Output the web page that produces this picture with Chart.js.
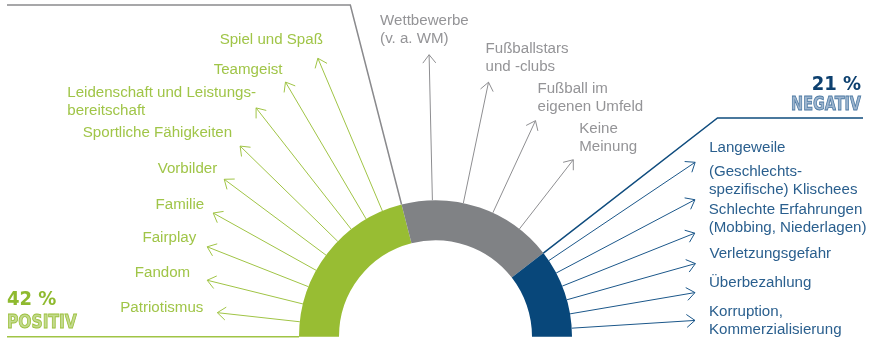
<!DOCTYPE html>
<html lang="de">
<head>
<meta charset="utf-8">
<title>Fußball – Assoziationen</title>
<script src="https://cdn.jsdelivr.net/npm/chart.js@4.4.1/dist/chart.umd.min.js"></script>
<style>
  html, body { margin: 0; padding: 0; background: #fff; }
  #chart { display: block; }
</style>
</head>
<body>
<canvas id="chart" width="869" height="339"></canvas>
<script>
// Anteile der drei Gruppen in Prozent
const groups = ['Positiv', 'Neutral', 'Negativ'];
const shares = [42, 37, 21];

// Nennungen je Gruppe, im Uhrzeigersinn von links unten nach rechts unten
const positiv = [
  'Patriotismus', 'Fandom', 'Fairplay', 'Familie', 'Vorbilder',
  'Sportliche Fähigkeiten', 'Leidenschaft und Leistungs-\nbereitschaft',
  'Teamgeist', 'Spiel und Spaß'
];
const neutral = [
  'Wettbewerbe\n(v. a. WM)', 'Fußballstars\nund -clubs',
  'Fußball im\neigenen Umfeld', 'Keine\nMeinung'
];
const negativ = [
  'Langeweile', '(Geschlechts-\nspezifische) Klischees',
  'Schlechte Erfahrungen\n(Mobbing, Niederlagen)', 'Verletzungsgefahr',
  'Überbezahlung', 'Korruption,\nKommerzialisierung'
];

const ringColors = ['#98bd33', '#808285', '#08477a'];
const lineColors = ['#a0c445', '#8e8e91', '#1b578a'];
const textColors = ['#a0c548', '#949497', '#2a5f8e'];

// Pfeile: Abstand vom Segmentrand (Grad), Pfeillänge ab Mittelpunkt,
// Versatz der Beschriftung gegenüber der Pfeilspitze
const callouts = [
  {
    items: positiv, inset: [6.3, 8.5], side: 'left',
    reach: [219.5, 235.2, 245.4, 254.4, 263.5, 273, 290.8, 295.6, 302.3],
    offset: [[-14, -5], [-17, -7], [-11, -9], [-9, -8], [-7, -10],
             [-8, -13], [0, -15], [-3, -12], [5, -18]]
  },
  {
    items: neutral, inset: [13.1, 14.3], side: 'right',
    reach: [282.1, 260, 238.1, 224.3],
    offset: [[-49, -34], [-3, -33], [2, -32], [6, -31]]
  },
  {
    items: negativ, inset: [3.9, 3.6], side: 'right',
    reach: [312.8, 293.4, 279.2, 270, 263.2, 260],
    offset: [[14, -14], [14, -28], [14, -23], [14, -10], [14, -10], [14, -9]]
  }
];

const deg = Math.PI / 180;
const labelFont = '15.1px "Liberation Sans", Arial, sans-serif';
const lineHeight = 18;

function drawArrow(ctx, x0, y0, x1, y1) {
  const a = Math.atan2(y1 - y0, x1 - x0);
  const len = 10.5, spread = 38 * deg;
  ctx.beginPath();
  ctx.moveTo(x0, y0);
  ctx.lineTo(x1, y1);
  ctx.moveTo(x1 - len * Math.cos(a - spread), y1 - len * Math.sin(a - spread));
  ctx.lineTo(x1, y1);
  ctx.lineTo(x1 - len * Math.cos(a + spread), y1 - len * Math.sin(a + spread));
  ctx.stroke();
}

function drawLabel(ctx, text, x, y, side) {
  const lines = text.split('\n');
  const w = Math.max(...lines.map(l => ctx.measureText(l).width));
  const left = side === 'left' ? x - w : x;
  lines.forEach((l, i) => ctx.fillText(l, left, y + i * lineHeight));
}

// Titel mit Kontur, wie "POSITIV" / "NEGATIV", schmal gestaucht
function outlinedText(ctx, text, x, y, fill, stroke, squeeze) {
  ctx.save();
  ctx.translate(x, y);
  ctx.scale(squeeze, 1);
  ctx.fillStyle = fill;
  ctx.fillText(text, 0, 0);
  ctx.lineWidth = 0.9;
  ctx.strokeStyle = stroke;
  ctx.strokeText(text, 0, 0);
  ctx.restore();
}

const calloutPlugin = {
  id: 'callouts',
  beforeDatasetsDraw(chart) {
    const ctx = chart.ctx;
    const arcs = chart.getDatasetMeta(0).data;
    const pos = arcs[0], neg = arcs[2];
    const cx = pos.x, cy = pos.y, r = pos.outerRadius;
    ctx.save();
    ctx.lineWidth = 1.5;

    // grüne Grundlinie links
    ctx.strokeStyle = lineColors[0];
    ctx.beginPath();
    ctx.moveTo(7, cy);
    ctx.lineTo(cx - r, cy);
    ctx.stroke();

    // graue Linie oben, entlang der Grenze Positiv/Neutral
    const a1 = pos.endAngle;
    const topY = 5;
    const t1 = (cy - topY) / -Math.sin(a1);
    ctx.strokeStyle = '#8a8a8d';
    ctx.beginPath();
    ctx.moveTo(7, topY);
    ctx.lineTo(cx + t1 * Math.cos(a1), topY);
    ctx.lineTo(cx + r * Math.cos(a1), cy + r * Math.sin(a1));
    ctx.stroke();

    // blaue Linie rechts, entlang der Grenze Neutral/Negativ
    const a2 = neg.startAngle;
    const lineY = 118;
    const t2 = (cy - lineY) / -Math.sin(a2);
    ctx.strokeStyle = '#0f4c7e';
    ctx.beginPath();
    ctx.moveTo(cx + r * Math.cos(a2), cy + r * Math.sin(a2));
    ctx.lineTo(cx + t2 * Math.cos(a2), lineY);
    ctx.lineTo(863, lineY);
    ctx.stroke();
    ctx.restore();
  },
  afterDatasetsDraw(chart) {
    const ctx = chart.ctx;
    const arcs = chart.getDatasetMeta(0).data;
    ctx.save();
    callouts.forEach((group, g) => {
      const arc = arcs[g];
      const cx = arc.x, cy = arc.y, r = arc.outerRadius;
      const a0 = arc.startAngle + group.inset[0] * deg;
      const a1 = arc.endAngle - group.inset[1] * deg;
      const n = group.items.length;
      group.items.forEach((text, i) => {
        const a = a0 + (n > 1 ? i * (a1 - a0) / (n - 1) : 0);
        const tipX = cx + group.reach[i] * Math.cos(a);
        const tipY = cy + group.reach[i] * Math.sin(a);
        ctx.strokeStyle = lineColors[g];
        ctx.lineWidth = 1;
        drawArrow(ctx, cx + r * Math.cos(a), cy + r * Math.sin(a), tipX, tipY);
        ctx.font = labelFont;
        ctx.fillStyle = textColors[g];
        ctx.textAlign = 'left';
        ctx.textBaseline = 'middle';
        drawLabel(ctx, text, tipX + group.offset[i][0], tipY + group.offset[i][1], group.side);
      });
    });

    // Gruppenkennzahlen
    ctx.textBaseline = 'alphabetic';
    ctx.font = 'bold 20px "DejaVu Sans Condensed", "DejaVu Sans", sans-serif';
    ctx.textAlign = 'left';
    ctx.fillStyle = '#8fba2f';
    ctx.fillText(shares[0] + ' %', 7, 305);
    ctx.textAlign = 'right';
    ctx.fillStyle = '#0d406f';
    ctx.fillText(shares[2] + ' %', 861, 90);

    ctx.font = 'bold 20px "DejaVu Sans Condensed", "DejaVu Sans", sans-serif';
    ctx.textAlign = 'left';
    outlinedText(ctx, groups[0].toUpperCase(), 7, 328, '#c3da8e', '#9dc13f', 0.86);
    ctx.textAlign = 'right';
    outlinedText(ctx, groups[2].toUpperCase(), 861, 110, '#9db5cf', '#4d7aa3', 0.8);
    ctx.restore();
  }
};

new Chart(document.getElementById('chart'), {
  type: 'doughnut',
  data: {
    labels: groups,
    datasets: [{
      data: shares,
      backgroundColor: ringColors,
      borderWidth: 0
    }]
  },
  options: {
    responsive: false,
    animation: false,
    rotation: -90,
    circumference: 180,
    cutout: '70.7%',
    layout: { padding: { left: 299, right: 297, top: 200, bottom: 2 } },
    plugins: {
      legend: { display: false },
      tooltip: { enabled: false }
    }
  },
  plugins: [calloutPlugin]
});
</script>
</body>
</html>
